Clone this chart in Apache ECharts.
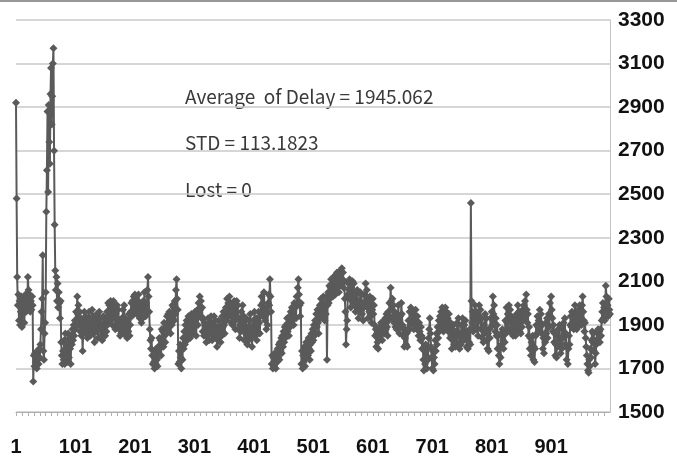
<!DOCTYPE html>
<html>
<head>
<meta charset="utf-8">
<script src="https://cdn.jsdelivr.net/npm/echarts@6/dist/echarts.min.js"></script>
<style>
  html, body { margin: 0; padding: 0; background: #fff; }
  #chart { width: 677px; height: 468px; }
</style>
</head>
<body>
<div id="chart"></div>
<script>
// delay per packet (packets 1..1000)
const delay = [
  2920, 2480, 2120, 1990, 2040, 1920, 2010, 1900, 1960, 2030, 1890, 2000, 1950, 2020, 1910, 1990, 2040, 1960, 2020, 1990,
  2120, 2060, 1980, 2040, 1960, 2010, 1970, 2030, 1990, 1640, 1760, 1710, 1770, 1730, 1760, 1700, 1780, 1740, 1720, 1790,
  1750, 1810, 1880, 1960, 2020, 2220, 1780, 1740, 1860, 1910, 2050, 2420, 2610, 2880, 2510, 2910, 2740, 2640, 2960, 3080,
  2820, 2950, 3100, 3170, 2700, 2360, 2150, 2060, 2120, 2010, 2090, 1980, 2050, 2000, 1930, 2010, 1820, 1760, 1720, 1780,
  1740, 1830, 1720, 1860, 1780, 1820, 1730, 1790, 1860, 1750, 1840, 1790, 1720, 1850, 1810, 1880, 1830, 1900, 1850, 1920,
  1880, 1960, 1900, 2030, 1950, 1990, 1900, 1960, 1870, 1930, 1850, 1910, 1780, 1860, 1900, 1960, 1880, 1940, 1860, 1900,
  1840, 1920, 1870, 1960, 1900, 1850, 1930, 1880, 1970, 1910, 1860, 1940, 1820, 1880, 1930, 1870, 1950, 1890, 1840, 1910,
  1960, 1880, 1930, 1850, 1900, 1830, 1880, 1940, 1860, 1910, 1850, 1930, 1870, 1960, 1900, 2000, 1940, 1990, 1920, 2010,
  1950, 2000, 1900, 1970, 2010, 1930, 1980, 1880, 1950, 1900, 1990, 1930, 1970, 1880, 1920, 1850, 1900, 1860, 1930, 1880,
  1970, 1910, 1990, 1860, 1930, 1850, 1890, 1840, 1920, 1870, 1950, 1850, 1900, 1960, 2000, 1940, 2010, 1950, 2030, 1980,
  2040, 1970, 2020, 1950, 2010, 1960, 2040, 1980, 1930, 2000, 1950, 1910, 1980, 1930, 2010, 1960, 2050, 1990, 1940, 2000,
  1960, 2060, 2120, 2030, 1960, 1880, 1830, 1790, 1840, 1760, 1720, 1780, 1730, 1700, 1760, 1720, 1790, 1740, 1710, 1800,
  1760, 1840, 1790, 1830, 1760, 1880, 1820, 1870, 1800, 1910, 1850, 1820, 1900, 1860, 1940, 1880, 1950, 1890, 1960, 1900,
  1860, 1940, 1900, 1990, 1930, 1980, 1920, 2010, 1950, 2060, 2110, 2020, 1970, 1720, 1780, 1730, 1810, 1750, 1700, 1790,
  1740, 1840, 1790, 1870, 1810, 1900, 1850, 1920, 1830, 1890, 1940, 1860, 1910, 1840, 1900, 1950, 1880, 1930, 1860, 1940,
  1890, 1960, 1900, 1850, 1930, 1970, 1900, 2000, 1940, 2030, 1970, 2010, 1930, 1980, 1870, 1930, 1850, 1910, 1860, 1890,
  1820, 1900, 1850, 1930, 1880, 1830, 1910, 1860, 1940, 1870, 1830, 1900, 1850, 1940, 1880, 1920, 1840, 1890, 1800, 1870,
  1830, 1920, 1860, 1900, 1820, 1880, 1850, 1940, 1890, 1960, 1900, 1860, 1930, 1980, 1920, 2020, 1950, 2000, 1940, 2030,
  1960, 2000, 1910, 1970, 1900, 1990, 1940, 2010, 1920, 1880, 1960, 2010, 1940, 1990, 1880, 1930, 1840, 1900, 1870, 1960,
  1920, 1990, 1880, 1940, 1830, 1900, 1860, 1930, 1850, 1810, 1880, 1830, 1920, 1870, 1950, 1890, 1840, 1800, 1880, 1920,
  1860, 1960, 1900, 1850, 1930, 1830, 1900, 1870, 1960, 1910, 1860, 1940, 1990, 2030, 1950, 2000, 1940, 2050, 1980, 1920,
  1970, 1880, 1950, 1900, 2000, 2040, 1990, 2110, 2030, 1960, 1720, 1760, 1700, 1750, 1710, 1770, 1720, 1700, 1760, 1730,
  1790, 1750, 1810, 1740, 1820, 1780, 1840, 1770, 1850, 1800, 1870, 1820, 1890, 1840, 1900, 1860, 1930, 1870, 1910, 1850,
  1940, 1890, 1960, 1900, 1980, 1920, 1960, 1900, 2000, 1940, 1980, 1930, 2030, 1990, 2070, 2110, 2040, 1990, 1940, 2000,
  1720, 1780, 1700, 1760, 1730, 1800, 1710, 1770, 1820, 1750, 1800, 1760, 1840, 1790, 1740, 1810, 1780, 1860, 1820, 1880,
  1830, 1900, 1850, 1920, 1860, 1950, 1890, 1970, 1910, 1860, 1950, 1990, 1930, 2020, 1960, 2000, 1940, 2030, 1970, 1920,
  2000, 1950, 2030, 1740, 1990, 2050, 2000, 2080, 2020, 2070, 2110, 2040, 2090, 2030, 2120, 2060, 2100, 2040, 2130, 2080,
  2140, 2070, 2110, 2050, 2130, 2080, 2150, 2090, 2160, 2110, 2140, 2070, 2100, 2020, 1960, 1810, 1880, 1920, 2040, 2090,
  2060, 2110, 2020, 1980, 2070, 2010, 2100, 2040, 2090, 1990, 2030, 1960, 2040, 2000, 2060, 1980, 1930, 2010, 1970, 2050,
  1990, 2040, 1950, 2000, 1920, 1980, 2040, 2000, 2090, 2030, 2060, 1980, 1930, 2010, 1960, 2030, 1940, 2000, 1910, 1970,
  2020, 1950, 1990, 1900, 1850, 1880, 1800, 1860, 1820, 1790, 1870, 1830, 1890, 1850, 1910, 1860, 1830, 1900, 1870, 1920,
  1860, 1930, 1880, 1950, 1890, 1850, 1960, 1920, 2000, 1940, 2070, 2010, 1970, 2020, 1930, 1990, 1910, 1960, 1890, 1940,
  1880, 1950, 1900, 1990, 1920, 1860, 1940, 1890, 2000, 1950, 1900, 1850, 1880, 1800, 1840, 1880, 1810, 1860, 1800, 1870,
  1920, 1880, 1960, 1900, 1980, 1920, 1970, 1910, 1950, 1880, 1940, 1900, 1970, 1920, 1880, 1940, 1900, 1850, 1910, 1870,
  1830, 1890, 1850, 1790, 1840, 1740, 1690, 1780, 1720, 1810, 1760, 1700, 1790, 1740, 1840, 1880, 1930, 1860, 1800, 1750,
  1700, 1780, 1690, 1750, 1720, 1830, 1780, 1860, 1810, 1890, 1840, 1920, 1870, 1940, 1880, 1960, 1900, 1980, 1920, 1870,
  1950, 1890, 1980, 1920, 1960, 1880, 1930, 1870, 1950, 1900, 1840, 1910, 1850, 1790, 1880, 1830, 1900, 1810, 1860, 1800,
  1870, 1820, 1910, 1850, 1930, 1860, 1790, 1850, 1810, 1900, 1850, 1930, 1870, 1830, 1900, 1840, 1920, 1860, 1800, 1850,
  1790, 1870, 1820, 1880, 1810, 2460, 2010, 1910, 1960, 1870, 1940, 1890, 1990, 1930, 1960, 1880, 1920, 1850, 1940, 1990,
  1920, 1970, 1880, 1930, 1840, 1890, 1820, 1900, 1860, 1950, 1880, 1930, 1830, 1790, 1860, 1780, 1880, 1840, 1930, 1890,
  1960, 1900, 2030, 1950, 1990, 1910, 1870, 1930, 1850, 1900, 1790, 1850, 1760, 1720, 1800, 1750, 1860, 1810, 1880, 1830,
  1790, 1870, 1820, 1920, 1860, 1980, 1910, 1950, 1880, 1990, 1930, 1970, 1880, 1940, 1860, 1910, 1850, 1930, 1870, 1920,
  1850, 1900, 1950, 1880, 1990, 1920, 1960, 1870, 1930, 1860, 1940, 1890, 1970, 1920, 1990, 1950, 2010, 1940, 2040, 1970,
  1910, 1950, 1850, 1890, 1790, 1840, 1760, 1820, 1780, 1850, 1740, 1800, 1730, 1790, 1850, 1900, 1860, 1940, 1890, 1920,
  1870, 1970, 1910, 1950, 1860, 1900, 1790, 1840, 1770, 1860, 1820, 1910, 1860, 1930, 1840, 1900, 1950, 1890, 2000, 1940,
  2030, 1970, 1930, 1870, 1900, 1820, 1860, 1760, 1810, 1750, 1850, 1800, 1880, 1830, 1900, 1820, 1770, 1840, 1790, 1880,
  1840, 1910, 1860, 1930, 1810, 1860, 1740, 1800, 1720, 1790, 1850, 1810, 1900, 1940, 1890, 1960, 1910, 1950, 1880, 1940,
  1990, 1910, 1960, 1880, 1940, 1890, 1970, 1920, 1990, 1930, 1960, 1900, 1990, 2030, 1960, 1920, 1870, 1910, 1840, 1800,
  1760, 1720, 1690, 1680, 1740, 1710, 1790, 1750, 1830, 1870, 1820, 1860, 1780, 1830, 1720, 1770, 1810, 1870, 1830, 1880,
  1840, 1870, 1820, 1880, 1850, 1920, 1960, 2000, 1930, 1980, 1920, 1990, 2080, 2030, 1960, 1990, 1940, 2020, 1970, 1950
];
const packets = delay.map((_, i) => String(i + 1));

const yMin = 1500;
const yMax = 3300;
const yStep = 200;

const statLines = [
  'Average  of Delay = 1945.062',
  'STD = 113.1823',
  'Lost = 0'
];

const numFont = '"Liberation Sans", Arial, sans-serif';
const textFont = '"Noto Sans CJK KR", "Liberation Sans", sans-serif';

const chart = echarts.init(document.getElementById('chart'), null, { renderer: 'canvas' });

chart.setOption({
  animation: false,
  backgroundColor: '#fff',
  grid: { left: 16, right: 67, top: 20, bottom: 56 },
  xAxis: {
    type: 'category',
    data: packets,
    boundaryGap: false,
    axisLine: { show: true, lineStyle: { color: '#b0b0b0', width: 1 } },
    axisTick: { show: true, interval: 9, length: 4, lineStyle: { color: '#b0b0b0' } },
    axisLabel: {
      interval: 99,
      margin: 25,
      color: '#111',
      fontFamily: numFont,
      fontWeight: 'bold',
      fontSize: 20
    },
    splitLine: { show: false }
  },
  yAxis: {
    type: 'value',
    position: 'right',
    min: yMin,
    max: yMax,
    interval: yStep,
    axisLine: { show: true, lineStyle: { color: '#c4c4c4' } },
    axisTick: { show: false },
    axisLabel: {
      margin: 8,
      color: '#111',
      fontFamily: numFont,
      fontWeight: 'bold',
      fontSize: 21,
      formatter: (v) => String(v)
    },
    splitLine: { lineStyle: { color: '#c8c8c8', width: 1.5 } }
  },
  graphic: [
    { type: 'rect', left: 0, top: 0, shape: { width: 677, height: 2 }, style: { fill: '#999' } },
    ...statLines.map((t, k) => ({
      type: 'text',
      left: 185,
      top: 87 + k * 46.5,
      style: { text: t, fill: '#3a3a3a', fontSize: 19, fontFamily: textFont }
    }))
  ],
  series: [{
    type: 'line',
    data: delay,
    showAllSymbol: true,
    symbol: 'diamond',
    symbolSize: 8,
    lineStyle: { color: '#5a5a5a', width: 2 },
    itemStyle: { color: '#5a5a5a' }
  }]
});
</script>
</body>
</html>
